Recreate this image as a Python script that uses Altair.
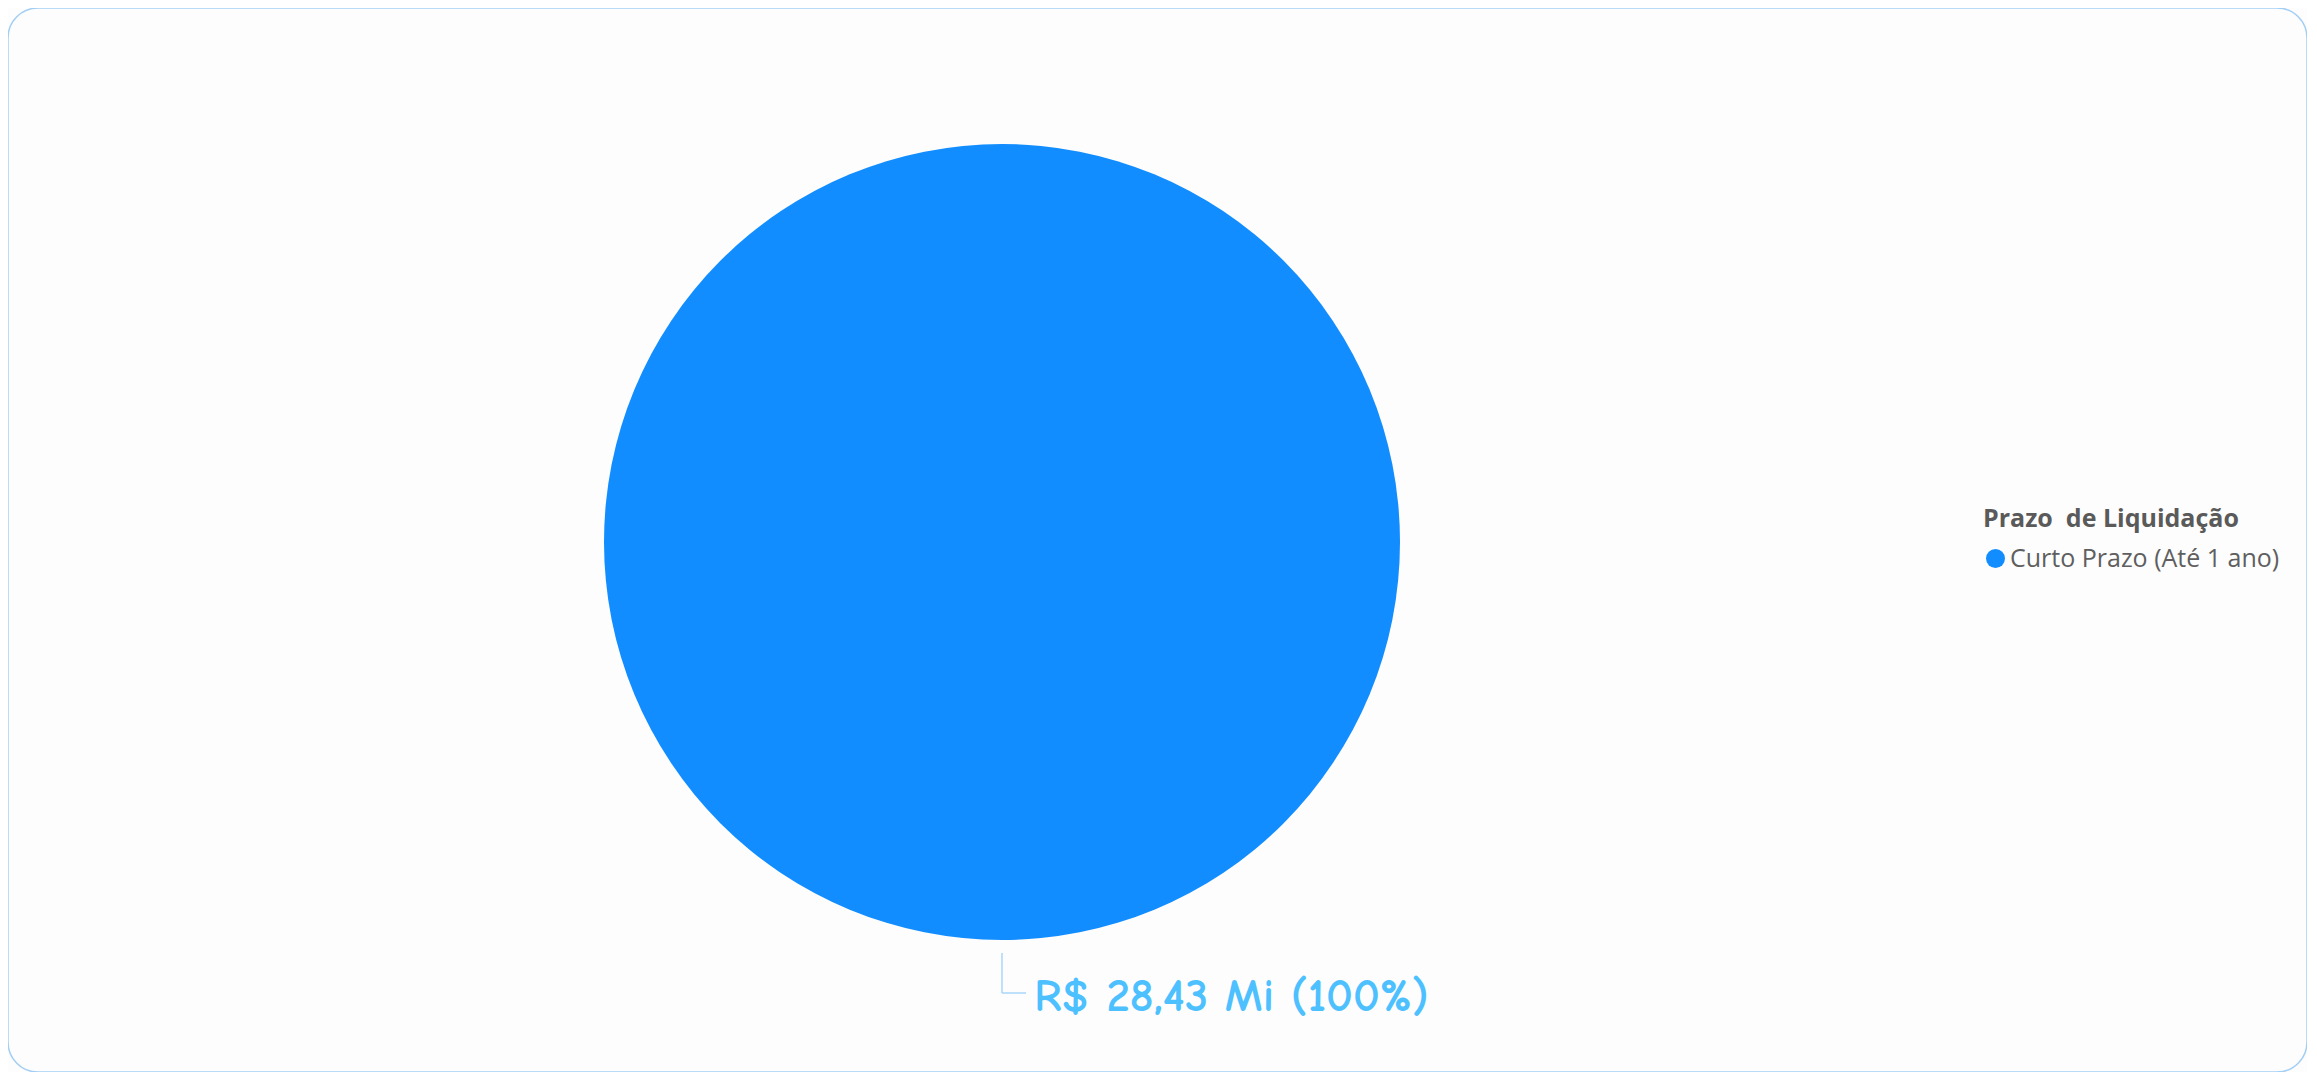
import altair as alt
import pandas as pd

categories = ["Curto Prazo (Até 1 ano)"]
values = [28.43]
share = [100]

labels = [f"R$ {v:.2f}".replace(".", ",") + f" Mi ({s}%)" for v, s in zip(values, share)]
df = pd.DataFrame({"categoria": categories, "valor": values, "rotulo": labels})

CX, CY, R = 994, 534, 398

base = alt.Chart(df).encode(
    theta=alt.Theta("valor:Q", stack=True),
    x=alt.value(CX),
    y=alt.value(CY),
)

pie = base.mark_arc(outerRadius=R).encode(
    color=alt.Color(
        "categoria:N",
        scale=alt.Scale(domain=categories, range=["#118DFF"]),
        legend=alt.Legend(
            title="Prazo\u00a0 de Liquidação",
            orient="none",
            legendX=1975,
            legendY=499,
            symbolType="circle",
            symbolSize=360,
            symbolStrokeWidth=0,
            titleFont="Open Sans",
            titleFontSize=25,
            titleFontWeight="bold",
            titleColor="#5A5A5A",
            titlePadding=14,
            titleLimit=600,
            labelLimit=600,
            labelFont="Open Sans",
            labelFontSize=25,
            labelColor="#5F5F5F",
            labelOffset=2,
            padding=0,
        ),
    )
)

text = base.mark_text(
    radius=455, align="left", baseline="middle", dx=32,
    font="Comic Sans MS, Comic Neue, Lato", fontSize=47, fontWeight="bold", color="#4DC0FF",
).encode(text="rotulo:N")

leader_v = alt.Chart(df).mark_rule(color="#A9D6F8", strokeWidth=1.5).encode(
    x=alt.value(CX), y=alt.value(CY + 411), y2=alt.value(CY + 451)
)
leader_h = alt.Chart(df).mark_rule(color="#A9D6F8", strokeWidth=1.5).encode(
    x=alt.value(CX), x2=alt.value(CX + 24), y=alt.value(CY + 451)
)

chart = alt.layer(pie, leader_v, leader_h, text).properties(
    width=2299, height=1064, padding=0, autosize=alt.AutoSizeParams(type="none"),
    background="#FDFDFD",
).configure_view(
    stroke="#A3CFF5", strokeWidth=1.5, cornerRadius=30, fill="#FDFDFD"
)

chart.save("out.html", embed_options={"renderer": "svg", "actions": False})
